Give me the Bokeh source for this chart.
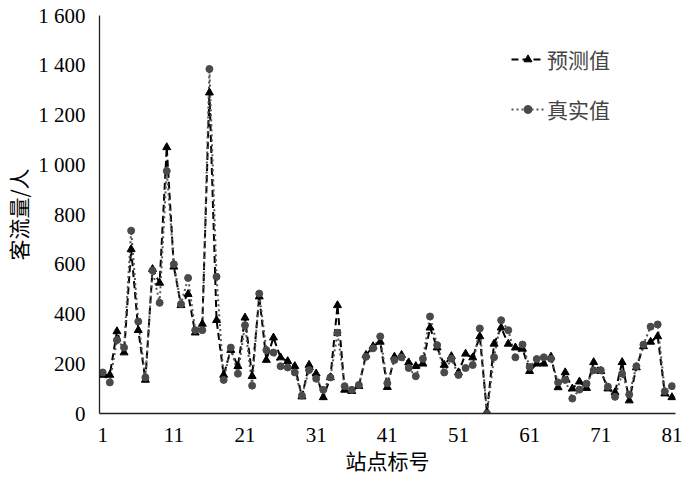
from bokeh.plotting import figure
from bokeh.models import Range1d, Legend, LegendItem
from bokeh.embed import file_html
from bokeh.resources import INLINE

stations = list(range(1, 82))
predicted = [155, 155, 330, 245, 660, 335, 135, 580, 525, 1070,
             590, 435, 480, 325, 360, 1290, 375, 155, 255, 190,
             385, 150, 470, 215, 305, 225, 210, 190, 68, 195,
             160, 65, 145, 435, 95, 90, 110, 235, 270, 288,
             106, 228, 235, 205, 190, 200, 345, 265, 195, 230,
             165, 240, 225, 310, 5, 280, 345, 280, 265, 260,
             170, 200, 200, 228, 105, 165, 100, 128, 102, 206,
             170, 100, 85, 206, 52, 185, 270, 288, 310, 80,
             65]
actual = [165, 125, 295, 265, 735, 370, 145, 575, 445, 975,
          600, 440, 545, 335, 335, 1385, 550, 135, 265, 160,
          355, 112, 482, 255, 245, 190, 185, 165, 72, 175,
          140, 95, 145, 325, 110, 95, 115, 228, 262, 310,
          122, 215, 226, 183, 150, 220, 390, 275, 165, 220,
          155, 183, 195, 342, 0, 226, 375, 335, 226, 277,
          187, 219, 226, 220, 125, 135, 60, 96, 120, 174,
          174, 108, 67, 160, 76, 190, 277, 349, 358, 89,
          110]
x_ticks = [1, 11, 21, 31, 41, 51, 61, 71, 81]
y_ticks = [0, 200, 400, 600, 800, 1000, 1200, 1400, 1600]
y_tick_labels = ["0", "200", "400", "600", "800", "1 000", "1 200", "1 400", "1 600"]
x_title = "站点标号"
y_title = "客流量/人"

p = figure(width=684, height=477, output_backend="svg", toolbar_location=None,
           x_range=Range1d(0.55, 81.5), y_range=Range1d(0, 1600),
           min_border_left=90, min_border_right=9, min_border_top=15, min_border_bottom=63)
p.outline_line_color = None
p.xgrid.visible = False
p.ygrid.visible = False

num_font = "'Liberation Serif', 'Times New Roman', serif"
cjk_font = "Noto Sans CJK SC"

for ax in (p.xaxis, p.yaxis):
    ax.axis_line_color = "#222222"
    ax.axis_line_width = 1.3
    ax.major_tick_line_color = None
    ax.minor_tick_line_color = None
    ax.major_label_text_font = num_font
    ax.major_label_text_font_size = "21px"
    ax.major_label_text_color = "black"
    ax.axis_label_text_font = cjk_font
    ax.axis_label_text_font_size = "21px"
    ax.axis_label_text_font_style = "normal"
    ax.axis_label_text_color = "black"

p.xaxis.ticker = x_ticks
p.yaxis.ticker = y_ticks
p.yaxis.major_label_overrides = {t: l for t, l in zip(y_ticks, y_tick_labels)}
p.xaxis.major_label_standoff = 8
p.yaxis.major_label_standoff = 8
p.xaxis.axis_label = x_title
p.yaxis.axis_label = y_title
p.xaxis.axis_label_standoff = 0
p.yaxis.axis_label_standoff = 2

l1 = p.line(stations, predicted, line_color="black", line_width=2, line_dash="7 4")
l2 = p.line(stations, actual, line_color="#555555", line_width=2, line_dash="2 3")
m1 = p.scatter(stations, predicted, marker="triangle", size=8, color="black")
m2 = p.scatter(stations, actual, marker="circle", size=7, color="#4a4a4a")

legend = Legend(items=[LegendItem(label="预测值", renderers=[l1, m1]),
                       LegendItem(label="真实值", renderers=[l2, m2])],
                location=(412, 289))
legend.label_text_font = cjk_font
legend.label_text_font_size = "21px"
legend.glyph_width = 33
legend.glyph_height = 20
legend.label_standoff = 3
legend.spacing = 20
legend.padding = 0
legend.margin = 0
legend.border_line_color = None
legend.background_fill_alpha = 0
p.add_layout(legend)

open("out.html", "w").write(file_html(p, INLINE))
